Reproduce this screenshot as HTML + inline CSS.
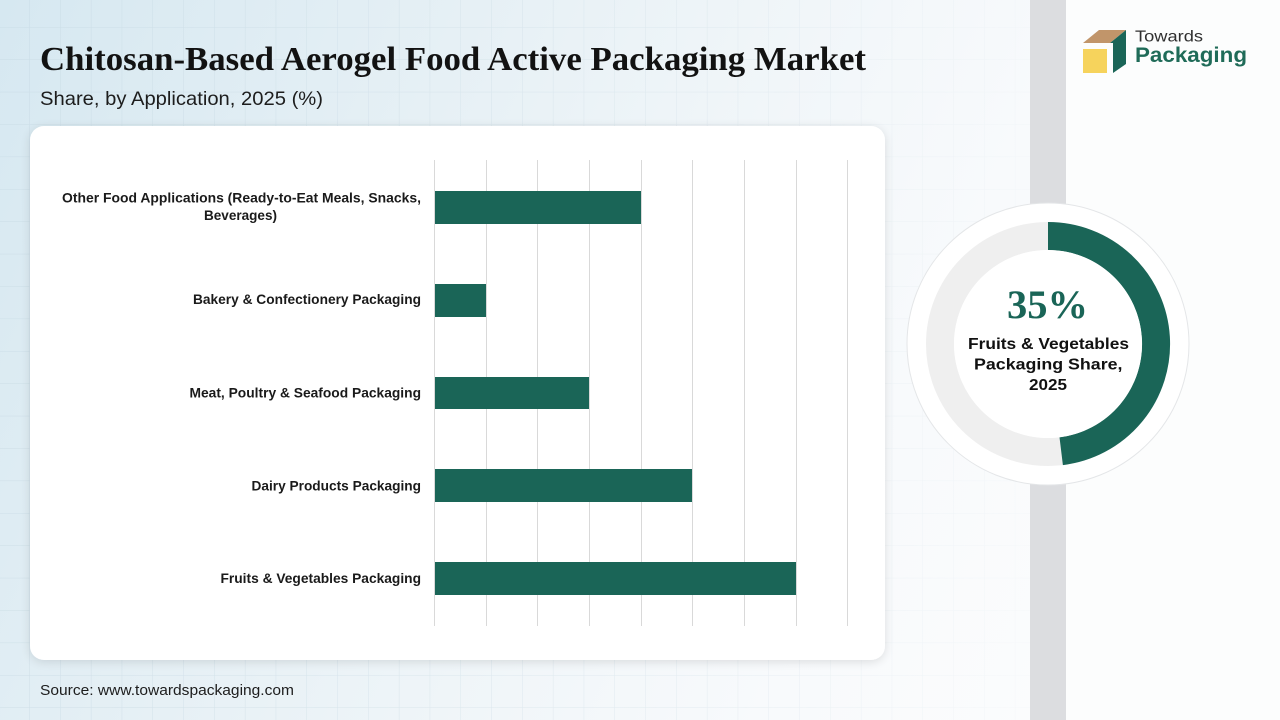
<!DOCTYPE html>
<html>
<head>
<meta charset="utf-8">
<style>
html,body{margin:0;padding:0;width:1280px;height:720px;overflow:hidden;background:#fff;}
svg{display:block;}
</style>
</head>
<body>
<svg width="1280" height="720" viewBox="0 0 1280 720" xmlns="http://www.w3.org/2000/svg">
  <defs>
    <linearGradient id="bg" x1="0" y1="0" x2="1" y2="0.25">
      <stop offset="0" stop-color="#d6e8f1"/>
      <stop offset="0.35" stop-color="#e6f0f5"/>
      <stop offset="0.6" stop-color="#f1f6f9"/>
      <stop offset="0.8" stop-color="#f8fafc"/>
      <stop offset="1" stop-color="#fbfcfd"/>
    </linearGradient>
    <pattern id="grid" x="29.3" y="27" width="30.8" height="32.4" patternUnits="userSpaceOnUse">
      <path d="M0 0 V32.4 M0 0 H30.8" stroke="#bfd3de" stroke-width="1" fill="none" opacity="0.55"/>
    </pattern>
    <linearGradient id="gridfade" x1="0" y1="0" x2="1" y2="0">
      <stop offset="0" stop-color="#fff" stop-opacity="1"/>
      <stop offset="0.55" stop-color="#fff" stop-opacity="0.6"/>
      <stop offset="0.8" stop-color="#fff" stop-opacity="0.15"/>
      <stop offset="1" stop-color="#fff" stop-opacity="0.1"/>
    </linearGradient>
    <mask id="gm"><rect x="0" y="0" width="1280" height="720" fill="url(#gridfade)"/></mask>
    <filter id="shadow" x="-10%" y="-10%" width="120%" height="120%">
      <feGaussianBlur in="SourceAlpha" stdDeviation="5"/>
      <feOffset dx="0" dy="2" result="b"/>
      <feComponentTransfer><feFuncA type="linear" slope="0.12"/></feComponentTransfer>
      <feMerge><feMergeNode/><feMergeNode in="SourceGraphic"/></feMerge>
    </filter>
  </defs>

  <!-- background -->
  <rect x="0" y="0" width="1280" height="720" fill="url(#bg)"/>
  <rect x="0" y="0" width="1280" height="720" fill="url(#grid)" mask="url(#gm)"/>
  <!-- right panel -->
  <rect x="1066" y="0" width="214" height="720" fill="#fcfdfd"/>
  <!-- gray stripe -->
  <rect x="1030" y="0" width="36" height="720" fill="#dcdde0"/>

  <!-- title -->
  <text x="40" y="70" font-family="'Liberation Serif', serif" font-weight="bold" font-size="34" fill="#121212" textLength="826" lengthAdjust="spacingAndGlyphs">Chitosan-Based Aerogel Food Active Packaging Market</text>
  <text x="40" y="105" font-family="'Liberation Sans', sans-serif" font-size="19.5" fill="#1d1d1d" textLength="283" lengthAdjust="spacingAndGlyphs">Share, by Application, 2025 (%)</text>

  <!-- card -->
  <rect x="30" y="126" width="855" height="534" rx="14" ry="14" fill="#ffffff" filter="url(#shadow)"/>

  <!-- gridlines -->
  <g stroke="#d9d9d9" stroke-width="1">
    <line x1="434.5" y1="160" x2="434.5" y2="626"/>
    <line x1="486.5" y1="160" x2="486.5" y2="626"/>
    <line x1="537.5" y1="160" x2="537.5" y2="626"/>
    <line x1="589.5" y1="160" x2="589.5" y2="626"/>
    <line x1="641.5" y1="160" x2="641.5" y2="626"/>
    <line x1="692.5" y1="160" x2="692.5" y2="626"/>
    <line x1="744.5" y1="160" x2="744.5" y2="626"/>
    <line x1="796.5" y1="160" x2="796.5" y2="626"/>
    <line x1="847.5" y1="160" x2="847.5" y2="626"/>
  </g>

  <!-- bars -->
  <g fill="#1a6557">
    <rect x="435" y="191" width="206" height="33"/>
    <rect x="435" y="284" width="51" height="33"/>
    <rect x="435" y="377" width="154" height="32"/>
    <rect x="435" y="469" width="257" height="33"/>
    <rect x="435" y="562" width="361" height="33"/>
  </g>

  <!-- labels -->
  <g font-family="'Liberation Sans', sans-serif" font-weight="bold" font-size="13.6" fill="#1a1a1a" lengthAdjust="spacingAndGlyphs">
    <text x="62" y="202.5" textLength="359" lengthAdjust="spacingAndGlyphs">Other Food Applications (Ready-to-Eat Meals, Snacks,</text>
    <text x="204" y="220" textLength="73" lengthAdjust="spacingAndGlyphs">Beverages)</text>
    <text x="193" y="304" textLength="228" lengthAdjust="spacingAndGlyphs">Bakery &amp; Confectionery Packaging</text>
    <text x="189.5" y="397.5" textLength="231.5" lengthAdjust="spacingAndGlyphs">Meat, Poultry &amp; Seafood Packaging</text>
    <text x="251.5" y="490.5" textLength="169.5" lengthAdjust="spacingAndGlyphs">Dairy Products Packaging</text>
    <text x="220.5" y="583" textLength="200.5" lengthAdjust="spacingAndGlyphs">Fruits &amp; Vegetables Packaging</text>
  </g>

  <!-- source -->
  <text x="40" y="695" font-family="'Liberation Sans', sans-serif" font-size="15" fill="#1d1d1d" textLength="254" lengthAdjust="spacingAndGlyphs">Source: www.towardspackaging.com</text>

  <!-- donut -->
  <circle cx="1048" cy="344" r="141" fill="#ffffff" stroke="#e4e6e8" stroke-width="1"/>
  <circle cx="1048" cy="344" r="108" fill="none" stroke="#efefef" stroke-width="28"/>
  <path d="M1048 236 A108 108 0 0 1 1061.2 451.2" fill="none" stroke="#1a6557" stroke-width="28"/>
  <circle cx="1048" cy="344" r="94" fill="#ffffff"/>

  <text x="1007" y="318" font-family="'Liberation Serif', serif" font-weight="bold" font-size="40" fill="#1a6557" textLength="81" lengthAdjust="spacingAndGlyphs">35%</text>
  <g font-family="'Liberation Sans', sans-serif" font-weight="bold" font-size="16" fill="#111">
    <text x="968" y="349" textLength="161" lengthAdjust="spacingAndGlyphs">Fruits &amp; Vegetables</text>
    <text x="974" y="369.5" textLength="148.5" lengthAdjust="spacingAndGlyphs">Packaging  Share,</text>
    <text x="1029" y="390" textLength="38" lengthAdjust="spacingAndGlyphs">2025</text>
  </g>

  <!-- logo -->
  <polygon points="1083,43 1099,30 1126,30 1110,43" fill="#c1956a"/>
  <polygon points="1110,43 1126,30 1126,64 1113,73 1113,43" fill="#1a6557"/>
  <rect x="1083" y="49" width="24" height="24" fill="#f6d35c"/>
  <text x="1135" y="41.7" font-family="'Liberation Sans', sans-serif" font-size="16" fill="#2f2f2f" textLength="68" lengthAdjust="spacingAndGlyphs">Towards</text>
  <text x="1135" y="62" font-family="'Liberation Sans', sans-serif" font-weight="bold" font-size="21" fill="#1f6b58" textLength="112" lengthAdjust="spacingAndGlyphs">Packaging</text>
</svg>
</body>
</html>
